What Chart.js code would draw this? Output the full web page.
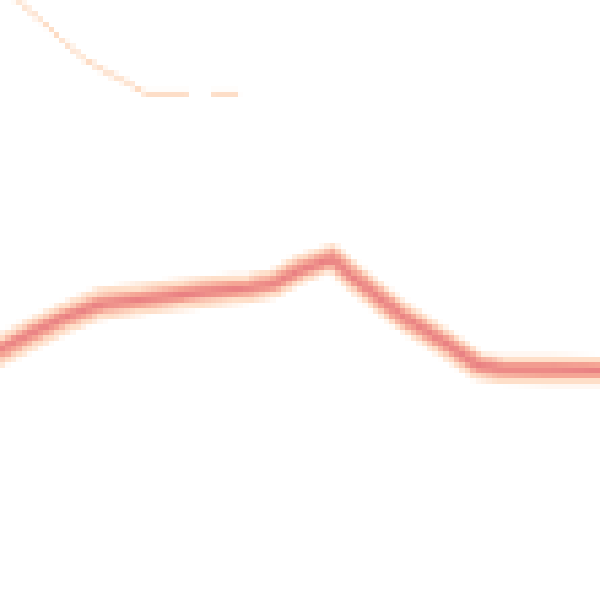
<!DOCTYPE html>
<html lang="en">
<head>
    <meta charset="UTF-8">
    <title>Lines detail</title>
    <script src="https://cdn.jsdelivr.net/npm/chart.js"></script>
    <style>
        html, body { margin: 0; padding: 0; background: #ffffff; }
        /* the chart is drawn small and blown up, so it keeps the blocky look */
        #detalle {
            display: block;
            width: 600px !important;
            height: 600px !important;
            image-rendering: pixelated;
        }
    </style>
</head>
<body>
    <canvas id="detalle" width="111" height="111"></canvas>

    <script>
        // thin pale line at the top left (null = the short break in it)
        const xThin = [1, 3.2, 6.7, 10.3, 14.3, 18, 21.7, 24.2, 31.5, 33.3, 35.2, 39.7];
        const thinValues = [101.3, 99.6, 96.8, 93.3, 90, 87.8, 86, 84.3, 84.3, null, 84.3, 84.3];

        // the thick band: several lines almost on top of each other
        const xBand = [-2, 0, 5, 10, 16.7, 25, 33.3, 41.7, 45.8, 50, 55.3, 58.3, 66.7, 75, 79.7, 83.3, 91.7, 102];
        const bandPaleHigh = [41.2, 42.5, 45.1, 47.7, 50.4, 51.3, 52.3, 53, 53.6, 56, 57.6, 55.1, 48.3, 43, 39.7, 39.1, 39.1, 39];
        const bandPaleLow  = [39.4, 40.6, 43.2, 45.7, 48.3, 49.3, 50.3, 51.1, 51.9, 54.3, 56.5, 53.5, 46.8, 41.5, 38.2, 37.6, 37.5, 37.4];
        const bandSalmon   = [40.4, 41.6, 44.2, 46.7, 49.3, 50.3, 51.3, 52.1, 52.8, 55.1, 57, 54.3, 47.6, 42.3, 39.1, 38.5, 38.4, 38.2];
        const bandDark     = [40.6, 41.8, 44.3, 46.8, 49.3, 50.2, 51.2, 52, 52.7, 55, 56.8, 54.2, 47.6, 42.3, 39.1, 38.6, 38.5, 38.3];

        function puntos(xs, ys) {
            return xs.map(function (x, i) { return { x: x, y: ys[i] }; });
        }

        const ctx = document.getElementById("detalle").getContext("2d");
        // first dataset is painted last, so the darkest goes first
        const myChart = new Chart(ctx, {
            type: "line",
            data: {
                datasets: [
                    { data: puntos(xBand, bandDark), borderColor: "rgba(229, 118, 126, 0.75)", borderWidth: 1.1 },
                    { data: puntos(xBand, bandSalmon), borderColor: "#f5a595", borderWidth: 3 },
                    { data: puntos(xBand, bandPaleHigh), borderColor: "#fedfc9", borderWidth: 3.6 },
                    { data: puntos(xBand, bandPaleLow), borderColor: "#fedfc9", borderWidth: 3.6 },
                    { data: puntos(xThin, thinValues), borderColor: "#fddcc4", borderWidth: 1 }
                ]
            },
            options: {
                responsive: false,
                devicePixelRatio: 1,
                animation: false,
                layout: { padding: 0 },
                elements: {
                    point: { radius: 0 },
                    line: { tension: 0, fill: false }
                },
                plugins: {
                    legend: { display: false },
                    tooltip: { enabled: false }
                },
                scales: {
                    x: { type: "linear", min: 0, max: 100, display: false },
                    y: { type: "linear", min: 0, max: 100, display: false }
                }
            }
        });
    </script>
</body>
</html>
